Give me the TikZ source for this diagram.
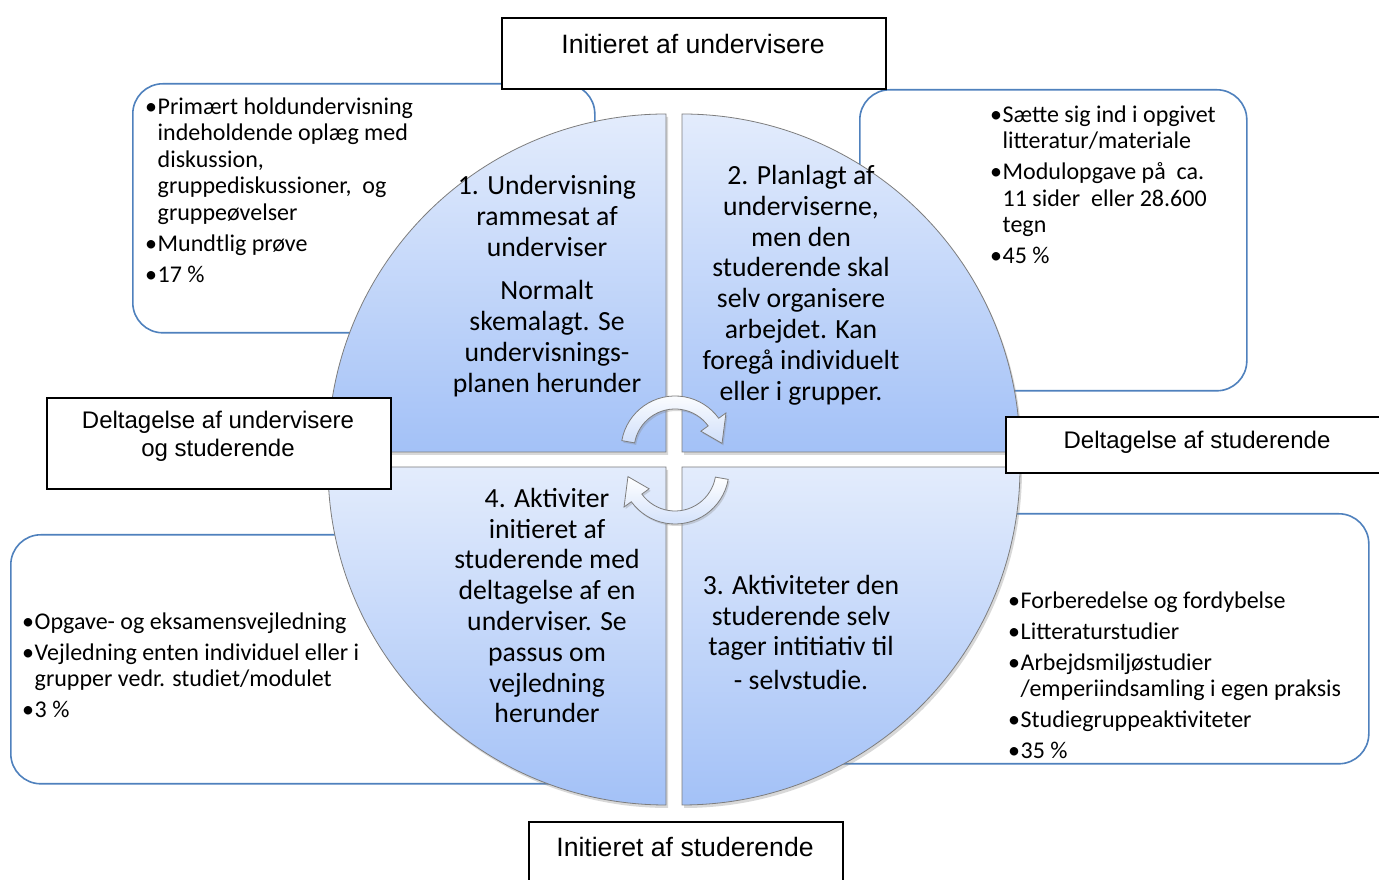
\documentclass[tikz,border=0pt]{standalone}
\usepackage{fontspec}
\setmainfont{Carlito}
\newfontfamily\arialf{Liberation Sans}
\usetikzlibrary{shadows,calc}
\definecolor{boxblue}{RGB}{79,129,189}
\definecolor{qtop}{RGB}{227,236,252}
\definecolor{qbot}{RGB}{163,193,247}
\definecolor{qedge}{RGB}{125,125,125}
\newcommand{\bul}{\makebox[12.5pt][l]{•}}
\newcommand{\ind}{\hspace*{12.5pt}}
\begin{document}
\begin{tikzpicture}[x=1pt,y=1pt,
  infobox/.style={draw=boxblue,line width=1.6pt,rounded corners=30pt,fill=white,inner sep=0pt,anchor=north west},
  labelbox/.style={draw=black,line width=1.6pt,fill=white,inner sep=0pt,anchor=north west},
  quad/.style={draw=qedge,line width=0.8pt,top color=qtop,bottom color=qbot,
    drop shadow={shadow xshift=2pt,shadow yshift=-3pt,opacity=0.3}},
  cyc/.style={draw=qedge,line width=0.8pt,top color=white,bottom color=qtop!70!qbot,
    drop shadow={shadow xshift=1.5pt,shadow yshift=-2pt,opacity=0.3}},
  qtext/.style={font=\fontsize{27.7}{30.8}\selectfont,align=center,inner sep=0pt},
  btext/.style={font=\fontsize{24}{26.5}\selectfont,align=left,anchor=north west,inner sep=0pt},
  ltext/.style={font=\arialf\fontsize{24}{28}\selectfont,align=center,inner sep=0pt},
  ltextbig/.style={font=\arialf\fontsize{26.6}{30}\selectfont,align=center,inner sep=0pt}
]
\useasboundingbox (0,0) rectangle (1379,880);
\fill[white] (0,0) rectangle (1379,880);

% rounded information boxes
\node[infobox,minimum width=462pt,minimum height=249pt] (boxA) at (132,797) {};
\node[infobox,minimum width=387pt,minimum height=301pt] (boxB) at (859,791) {};
\node[infobox,minimum width=590pt,minimum height=249pt] (boxC) at (10,346) {};
\node[infobox,minimum width=588pt,minimum height=250pt] (boxD) at (780,367) {};

% quadrants
\path[quad] (666,428) -- (328,428) arc[start angle=180,end angle=90,radius=338] -- cycle;
\path[quad] (682,428) -- (682,766) arc[start angle=90,end angle=0,radius=338] -- cycle;
\path[quad] (666,413) -- (328,413) arc[start angle=180,end angle=270,radius=338] -- cycle;
\path[quad] (682,413) -- (682,75) arc[start angle=270,end angle=360,radius=338] -- cycle;

% cycle arrows
\coordinate (T) at (675,430);
\coordinate (B) at (675,410);
\path[cyc] ($(T)+(170:54)$) arc[start angle=170,end angle=36,radius=54]
  -- ($(T)+(36:63)$) -- ($(T)+(8:47.5)$) -- ($(T)+(36:32)$) -- ($(T)+(36:41)$)
  arc[start angle=36,end angle=170,radius=41] -- cycle;
\path[cyc] ($(B)+(-10:54)$) arc[start angle=-10,end angle=-144,radius=54]
  -- ($(B)+(-144:63)$) -- ($(B)+(-172:47.5)$) -- ($(B)+(-144:32)$) -- ($(B)+(-144:41)$)
  arc[start angle=-144,end angle=-10,radius=41] -- cycle;

% quadrant texts
\node[qtext] (q1) at (547,594) {1. Undervisning\\rammesat af\\underviser\\[13pt]Normalt\\skemalagt. Se\\undervisnings-\\planen herunder};
\node[qtext] (q2) at (801,595) {2. Planlagt af\\underviserne,\\men den\\studerende skal\\selv organisere\\arbejdet. Kan\\foregå individuelt\\eller i grupper.};
\node[qtext] (q4) at (547,274.5) {4. Aktiviter\\initieret af\\studerende med\\deltagelse af en\\underviser. Se\\passus om\\vejledning\\herunder};
\node[qtext] (q3) at (801,247.5) {3. Aktiviteter den\\studerende selv\\tager intitiativ til\\[3pt]- selvstudie.};

% bullet texts
\node[btext] (tA) at (145,784.5) {\strut\bul Primært holdundervisning\\\ind indeholdende oplæg med\\\ind diskussion,\\\ind gruppediskussioner,\ \ og\\\ind gruppeøvelser\\[4.5pt]\bul Mundtlig prøve\\[4.5pt]\bul 17 \%};
\node[btext] (tB) at (990,776.5) {\strut\bul Sætte sig ind i opgivet\\\ind litteratur/materiale\\[4.5pt]\bul Modulopgave på\ \ ca.\\\ind 11 sider\ \ eller 28.600\\\ind tegn\\[4.5pt]\bul 45 \%};
\node[btext] (tC) at (22,269.5) {\strut\bul Opgave- og eksamensvejledning\\[4.5pt]\bul Vejledning enten individuel eller i\\\ind grupper vedr. studiet/modulet\\[4.5pt]\bul 3 \%};
\node[btext] (tD) at (1008,290.5) {\strut\bul Forberedelse og fordybelse\\[4.5pt]\bul Litteraturstudier\\[4.5pt]\bul Arbejdsmiljøstudier\\\ind /emperiindsamling i egen praksis\\[4.5pt]\bul Studiegruppeaktiviteter\\[4.5pt]\bul 35 \%};

% black label boxes
\node[labelbox,minimum width=384pt,minimum height=71pt] (topbox) at (501,863) {};
\node[ltextbig] (toplab) at (693,836) {Initieret af undervisere};
\node[labelbox,minimum width=380pt,minimum height=56pt] (rightbox) at (1005,464) {};
\node[ltext] (rightlab) at (1197,438) {Deltagelse af studerende};
\node[labelbox,minimum width=344pt,minimum height=91pt] (leftbox) at (46,483) {};
\node[ltext] (leftlab) at (218,444) {Deltagelse af undervisere\\og studerende};
\node[labelbox,minimum width=314pt,minimum height=70pt] (botbox) at (528,59) {};
\node[ltextbig] (botlab) at (685,33) {Initieret af studerende};
\end{tikzpicture}
\end{document}
